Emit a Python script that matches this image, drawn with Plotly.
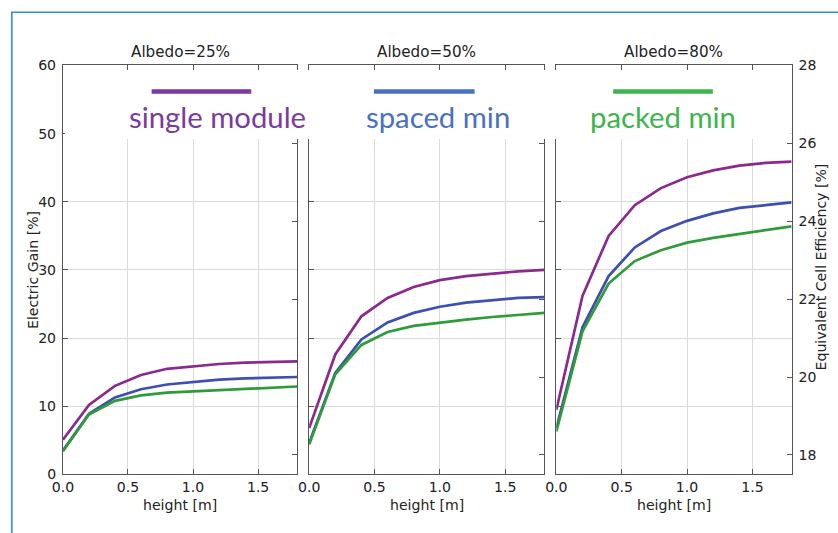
import plotly.graph_objects as go

# ---- data -------------------------------------------------------------
height = [0.0, 0.2, 0.4, 0.6, 0.8, 1.0, 1.2, 1.4, 1.6, 1.8]
albedo_titles = ["Albedo=25%", "Albedo=50%", "Albedo=80%"]
series_names = ["single module", "spaced min", "packed min"]

# electric gain [%] for each configuration, one list per albedo
single_module_25 = [5.1, 10.2, 13.0, 14.6, 15.5, 15.9, 16.2, 16.4, 16.5, 16.6]
spaced_min_25 = [3.5, 8.9, 11.3, 12.5, 13.2, 13.6, 13.9, 14.1, 14.2, 14.3]
packed_min_25 = [3.4, 8.8, 10.8, 11.6, 12.0, 12.2, 12.4, 12.6, 12.8, 12.9]

single_module_50 = [6.8, 17.6, 23.2, 25.9, 27.5, 28.5, 29.1, 29.5, 29.8, 30.0]
spaced_min_50 = [4.6, 14.9, 19.8, 22.3, 23.7, 24.6, 25.2, 25.6, 25.9, 26.0]
packed_min_50 = [4.4, 14.7, 19.0, 20.9, 21.8, 22.3, 22.7, 23.1, 23.4, 23.7]

single_module_80 = [9.5, 26.2, 35.0, 39.5, 42.0, 43.6, 44.6, 45.3, 45.7, 45.9]
spaced_min_80 = [6.8, 21.6, 29.1, 33.3, 35.7, 37.2, 38.3, 39.1, 39.5, 39.9]
packed_min_80 = [6.3, 21.0, 28.0, 31.3, 32.9, 34.0, 34.7, 35.3, 35.8, 36.4]

gain_ticks = [0, 10, 20, 30, 40, 50, 60]
height_ticks = [0.0, 0.5, 1.0, 1.5]
height_tick_text = ["0.0", "0.5", "1.0", "1.5"]
efficiency_ticks = [18, 20, 22, 24, 26, 28]

# base module efficiency: equivalent efficiency = base * (1 + gain/100)
BASE_EFFICIENCY = 17.5

panels = [
    [single_module_25, spaced_min_25, packed_min_25],
    [single_module_50, spaced_min_50, packed_min_50],
    [single_module_80, spaced_min_80, packed_min_80],
]

# ---- page geometry ------------------------------------------------------
# The page keeps the browser's 8px body margin and is shown slightly reduced,
# so layout positions are given in final-view pixels and converted here.
BODY_MARGIN = 8
S_X, S_Y = 0.99, 0.968
W = 838
H = 543


def fx(px):
    """view pixel x -> paper fraction"""
    return (px / S_X - BODY_MARGIN) / W


def fy(py):
    """view pixel y -> paper fraction"""
    return 1 - (py / S_Y - BODY_MARGIN) / H


def fs(size):
    """font size compensated for the reduced view"""
    return round(size / S_X, 1)


line_colors = ["#8b2a8c", "#3d4fb0", "#2f9b3a"]
legend_colors = ["#7b3a9e", "#4a70c0", "#3db44c"]
SPINE = "#555555"
GRID = "#dadada"
TICK_FONT = dict(family="DejaVu Sans", size=fs(14), color="#222222")
TITLE_FONT = dict(family="DejaVu Sans", size=fs(15), color="#222222")
LABEL_FONT = dict(family="DejaVu Sans", size=fs(14), color="#222222")

panel_x = [(60, 295), (307, 543), (555, 791)]
top_px, bottom_px = 65, 473
gain_range = [0, 60]
eff_range = [BASE_EFFICIENCY * (1 + g / 100) for g in gain_range]

fig = go.Figure()
layout = dict(
    width=W, height=H,
    margin=dict(l=0, r=0, t=0, b=0),
    paper_bgcolor="white", plot_bgcolor="white",
    showlegend=False,
)

for i, series in enumerate(panels):
    n = i + 1
    xa = "x" if n == 1 else f"x{n}"
    ya = "y" if n == 1 else f"y{n}"
    ya_eff = f"y{n + 3}"
    for values, color, name in zip(series, line_colors, series_names):
        fig.add_trace(go.Scatter(
            x=height, y=values, mode="lines", name=name,
            line=dict(color=color, width=2.7),
            xaxis=xa, yaxis=ya, hoverinfo="skip",
        ))
    # the same curves on the efficiency scale, kept invisible so the twin axis renders
    fig.add_trace(go.Scatter(
        x=height, y=[BASE_EFFICIENCY * (1 + v / 100) for v in series[0]],
        mode="lines", line=dict(width=0), opacity=0,
        xaxis=xa, yaxis=ya_eff, hoverinfo="skip",
    ))

    x0, x1 = panel_x[i]
    layout["xaxis" if n == 1 else f"xaxis{n}"] = dict(
        domain=[fx(x0), fx(x1)], anchor=ya,
        range=[0, 1.8], tickvals=height_ticks, ticktext=height_tick_text,
        ticks="inside", ticklen=5, tickcolor=SPINE,
        showline=True, linecolor=SPINE, linewidth=1, mirror="ticks",
        showgrid=True, gridcolor=GRID, gridwidth=1, zeroline=False,
        tickfont=TICK_FONT, ticklabelstandoff=0,
    )
    layout["yaxis" if n == 1 else f"yaxis{n}"] = dict(
        domain=[fy(bottom_px), fy(top_px)], anchor=xa,
        range=gain_range, tickvals=gain_ticks,
        ticks="inside", ticklen=5, tickcolor=SPINE,
        showline=True, linecolor=SPINE, linewidth=1,
        showgrid=True, gridcolor=GRID, gridwidth=1, zeroline=False,
        showticklabels=(n == 1), tickfont=TICK_FONT, ticklabelstandoff=3,
    )
    layout[f"yaxis{n + 3}"] = dict(
        overlaying=ya, anchor=xa, side="right",
        range=eff_range, tickvals=efficiency_ticks,
        ticks="inside", ticklen=5, tickcolor=SPINE,
        showline=True, linecolor=SPINE, linewidth=1,
        showgrid=False, zeroline=False,
        showticklabels=(n == 3), tickfont=TICK_FONT, ticklabelstandoff=3,
    )

fig.update_layout(**layout)

annotations = []
shapes = []

# panel titles and x axis titles
for i, title in enumerate(albedo_titles):
    x0, x1 = panel_x[i]
    cx = (x0 + x1) / 2
    annotations.append(dict(
        text=title, x=fx(cx), y=fy(52), xref="paper", yref="paper",
        showarrow=False, font=TITLE_FONT,
        xanchor="center", yanchor="middle",
    ))
    annotations.append(dict(
        text="height [m]", x=fx(cx), y=fy(503), xref="paper", yref="paper",
        showarrow=False, font=LABEL_FONT, xanchor="center", yanchor="middle",
    ))

annotations.append(dict(
    text="Electric Gain [%]", x=fx(30), y=fy(269), xref="paper", yref="paper",
    showarrow=False, font=LABEL_FONT, textangle=-90,
    xanchor="center", yanchor="middle",
))
annotations.append(dict(
    text="Equivalent Cell Efficiency [%]", x=fx(820), y=fy(266),
    xref="paper", yref="paper", showarrow=False, font=LABEL_FONT,
    textangle=-90, xanchor="center", yanchor="middle",
))

# white band holding the series key across the top of the panels
shapes.append(dict(
    type="rect", xref="paper", yref="paper",
    x0=fx(62), x1=fx(789), y0=fy(138.5), y1=fy(69.5),
    fillcolor="white", line=dict(width=0), layer="above",
))

key_lines = [(149, 249), (372, 473), (612, 712)]
key_text_x = [215, 436, 662]
for (lx0, lx1), tx, color, name in zip(key_lines, key_text_x, legend_colors, series_names):
    shapes.append(dict(
        type="line", xref="paper", yref="paper",
        x0=fx(lx0), x1=fx(lx1), y0=fy(91), y1=fy(91),
        line=dict(color=color, width=4.5), layer="above",
    ))
    annotations.append(dict(
        text=name, x=fx(tx), y=fy(116), xref="paper", yref="paper",
        showarrow=False, font=dict(family="Lato", size=fs(29), color=color),
        xanchor="center", yanchor="middle",
    ))

# blue page frame
FRAME = "#2e8ee0"
shapes.append(dict(
    type="line", xref="paper", yref="paper",
    x0=0.0, x1=1.0, y0=fy(12), y1=fy(12),
    line=dict(color=FRAME, width=1.6), layer="above",
))
shapes.append(dict(
    type="line", xref="paper", yref="paper",
    x0=0.001, x1=0.001, y0=fy(12), y1=0.0,
    line=dict(color=FRAME, width=1.6), layer="above",
))

fig.update_layout(annotations=annotations, shapes=shapes)

fig.write_html("out.html")
